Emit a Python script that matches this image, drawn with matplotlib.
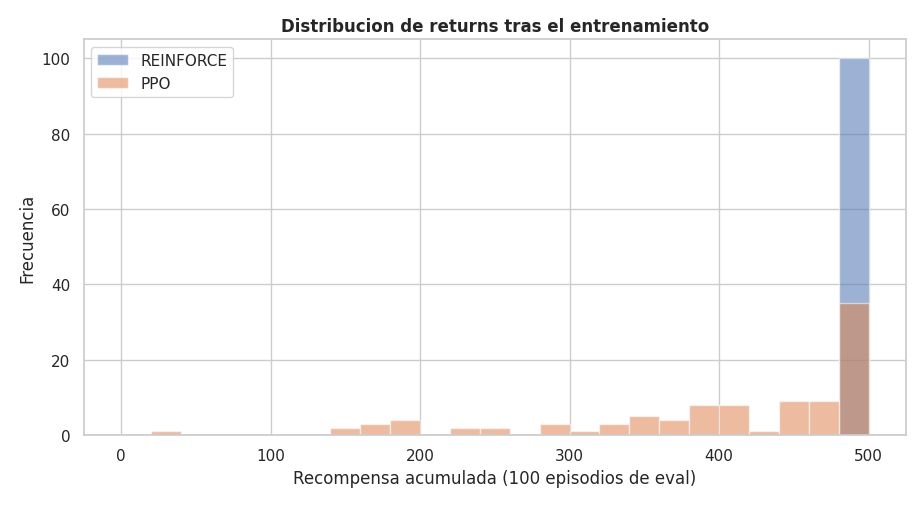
import numpy as np
import matplotlib
matplotlib.use("Agg")
import matplotlib.pyplot as plt
import seaborn as sns

sns.set_theme(style="whitegrid")
plt.rcParams['font.family'] = ['DejaVu Sans']

bin_edges = np.arange(0, 520, 20)
bin_centers = bin_edges[:-1] + 10

# frecuencias por bin
reinforce_counts = [0] * 24 + [100]
ppo_counts = [0, 1, 0, 0, 0, 0, 0, 2, 3, 4, 0, 2, 2, 0, 3, 1, 3, 5, 4, 8, 8, 1, 9, 9, 35]

fig, ax = plt.subplots(figsize=(9.24, 5.06), dpi=100)
ax.hist(bin_centers, bins=bin_edges, weights=reinforce_counts, alpha=0.55,
        color="#4c72b0", edgecolor="white", label="REINFORCE")
ax.hist(bin_centers, bins=bin_edges, weights=ppo_counts, alpha=0.55,
        color="#dd8452", edgecolor="white", label="PPO")
ax.set_title("Distribucion de returns tras el entrenamiento", fontweight="bold")
ax.set_xlabel("Recompensa acumulada (100 episodios de eval)")
ax.set_ylabel("Frecuencia")
ax.legend(loc="upper left")
plt.tight_layout()
plt.savefig("out.png", dpi=100)
